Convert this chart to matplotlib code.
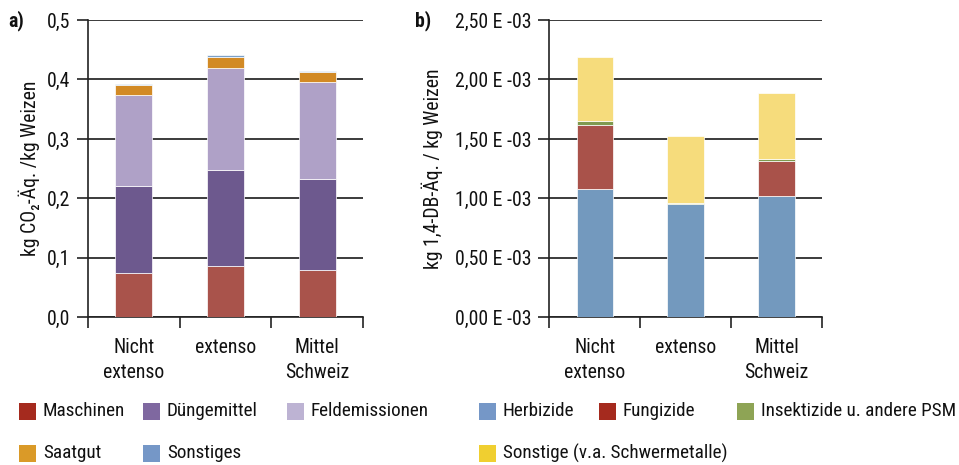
import matplotlib
matplotlib.use('Agg')
import matplotlib.pyplot as plt
from matplotlib.patches import Rectangle

plt.rcParams['font.family'] = ['Roboto Condensed', 'Roboto', 'DejaVu Sans']

# Szenarien (x-Achse)
szenarien = ['Nicht\nextenso', 'extenso', 'Mittel\nSchweiz']

# a) Treibhauspotenzial, kg CO2-Äq. / kg Weizen
maschinen = [0.074, 0.086, 0.080]
duengemittel = [0.147, 0.162, 0.153]
feldemissionen = [0.153, 0.172, 0.163]
saatgut = [0.016, 0.018, 0.016]
sonstiges = [0.003, 0.003, 0.003]

# b) Ökotoxizität, E-03 kg 1,4-DB-Äq. / kg Weizen
herbizide = [1.080, 0.955, 1.020]
fungizide = [0.540, 0.000, 0.295]
insektizide = [0.030, 0.010, 0.015]
sonstige_sm = [0.540, 0.560, 0.560]

ticks_a = [0.0, 0.1, 0.2, 0.3, 0.4, 0.5]
ticklabels_a = ['0,0', '0,1', '0,2', '0,3', '0,4', '0,5']
ticks_b = [0.0, 0.5, 1.0, 1.5, 2.0, 2.5]
ticklabels_b = ['0,00 E -03', '0,50 E -03', '1,00 E -03',
                '1,50 E -03', '2,00 E -03', '2,50 E -03']

serien_a = [
    (maschinen, '#A9534B'),
    (duengemittel, '#6D598E'),
    (feldemissionen, '#AFA1C7'),
    (saatgut, '#D28A25'),
    (sonstiges, '#7BA0C8'),
]
serien_b = [
    (herbizide, '#7399BE'),
    (fungizide, '#A9524A'),
    (insektizide, '#7F9A4F'),
    (sonstige_sm, '#F6DC7C'),
]

# Legendeneinträge: (Text, Farbe, x in px, Zeile)
legende = [
    ('Maschinen', '#A52A1E', 19, 0),
    ('Düngemittel', '#7F68A0', 143, 0),
    ('Feldemissionen', '#BDB3D3', 287, 0),
    ('Saatgut', '#DA9A28', 19, 1),
    ('Sonstiges', '#7597C7', 143, 1),
    ('Herbizide', '#7597C7', 479, 0),
    ('Fungizide', '#A52A1E', 599, 0),
    ('Insektizide u. andere PSM', '#8EA455', 737, 0),
    ('Sonstige (v.a. Schwermetalle)', '#F0CF30', 479, 1),
]

W, H = 959, 465
fig = plt.figure(figsize=(W / 100, H / 100), dpi=100)

ax_a = fig.add_axes([88 / W, (H - 317.3) / H, 275 / W, 297.3 / H])
ax_b = fig.add_axes([549.3 / W, (H - 317.3) / H, 272.7 / W, 297.3 / H])

FS = 14.2       # Achsentexte
FS_LEG = 13.8   # Legende
TXT = '#111111'


def stapel(ax, serien):
    x = range(len(szenarien))
    unten = [0.0] * len(szenarien)
    for werte, farbe in serien:
        ax.bar(x, werte, width=0.4, bottom=unten, color=farbe,
               edgecolor='white', linewidth=0.5, zorder=3)
        unten = [u + w for u, w in zip(unten, werte)]


def achse(ax, ticks, labels, ylabel):
    ax.set_xlim(-0.5, len(szenarien) - 0.5)
    ax.set_ylim(ticks[0], ticks[-1])
    ax.set_yticks(ticks)
    ax.set_yticklabels(labels, fontsize=FS, color=TXT)
    ax.set_xticks([i - 0.5 for i in range(len(szenarien) + 1)])
    ax.set_xticklabels([])
    ax.set_xticks(range(len(szenarien)), minor=True)
    ax.set_xticklabels(szenarien, minor=True, fontsize=FS,
                       color=TXT, linespacing=1.4)
    ax.tick_params(axis='x', which='minor', length=0, pad=15)
    ax.tick_params(axis='both', which='major', length=8, width=1.2,
                   color='#222222', direction='out', pad=5)
    ax.yaxis.grid(True, color='#1a1a1a', linewidth=1.2, zorder=0)
    for s in ('top', 'right'):
        ax.spines[s].set_visible(False)
    for s in ('left', 'bottom'):
        ax.spines[s].set_color('#222222')
        ax.spines[s].set_linewidth(1.2)
    ax.set_ylabel(ylabel, fontsize=FS, color=TXT)


stapel(ax_a, serien_a)
achse(ax_a, ticks_a, ticklabels_a, 'kg CO₂-Äq. /kg Weizen')
ax_a.yaxis.set_label_coords(-0.175, 0.5)

stapel(ax_b, serien_b)
achse(ax_b, ticks_b, ticklabels_b, 'kg 1,4-DB-Äq. / kg Weizen')
ax_b.yaxis.set_label_coords(-0.39, 0.5)

fig.text(8 / W, 1 - 21 / H, 'a)', fontsize=FS, fontweight='bold',
         va='center', ha='left', color=TXT)
fig.text(415 / W, 1 - 21 / H, 'b)', fontsize=FS, fontweight='bold',
         va='center', ha='left', color=TXT)

# Legende unten, manuell gesetzt
zeilen_y = [411.5, 453.0]
for text, farbe, x, zeile in legende:
    y = zeilen_y[zeile]
    fig.add_artist(Rectangle((x / W, 1 - (y + 8.5) / H), 17 / W, 17 / H,
                             transform=fig.transFigure, facecolor=farbe,
                             edgecolor='none'))
    fig.text((x + 24) / W, 1 - y / H, text, fontsize=FS_LEG, va='center',
             ha='left', color=TXT)

fig.savefig('out.png', dpi=100)
